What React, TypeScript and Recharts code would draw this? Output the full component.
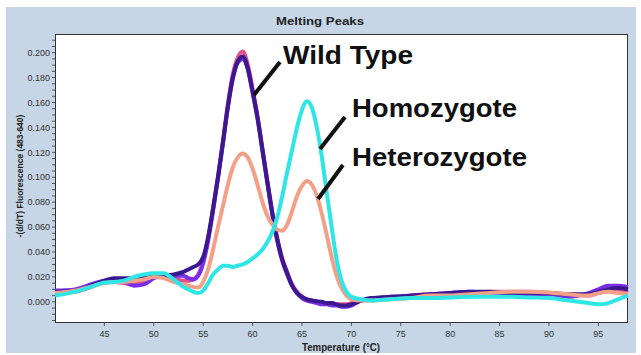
import { LineChart, Line, XAxis, YAxis } from "recharts";

// Temperature sample points (°C)
const TEMPS = [
  40, 42, 44, 45, 46, 47, 48, 49, 50, 51, 52, 53, 53.5, 54, 54.5, 55, 55.5, 56, 56.5, 57,
  57.5, 58, 58.5, 59, 59.5, 60, 60.5, 61, 61.5, 62, 62.5, 63, 63.5, 64, 64.5, 65, 65.5, 66,
  66.5, 67, 67.5, 68, 68.5, 69, 69.5, 70, 71, 72, 74, 76, 78, 80, 82, 84, 86, 88, 90, 92,
  94, 95, 96, 97, 98,
];

// -(d/dT) fluorescence
const WILD_A = [
  0.008, 0.009, 0.014, 0.017, 0.019, 0.019, 0.019, 0.020, 0.021, 0.021, 0.022, 0.024, 0.026, 0.028, 0.030, 0.036, 0.052, 0.075, 0.100, 0.128,
  0.157, 0.180, 0.193, 0.197, 0.188, 0.169, 0.148, 0.122, 0.096, 0.071, 0.050, 0.034, 0.023, 0.013, 0.007, 0.004, 0.002, 0.001,
  0.0005, 0.0, -0.001, -0.001, -0.002, -0.003, -0.003, -0.002, 0.001, 0.003, 0.004, 0.005, 0.006, 0.007, 0.008, 0.008, 0.007, 0.007, 0.007, 0.006,
  0.006, 0.008, 0.010, 0.011, 0.010,
];
const WILD_B = [
  0.009, 0.010, 0.015, 0.017, 0.018, 0.016, 0.013, 0.014, 0.019, 0.021, 0.021, 0.021, 0.019, 0.018, 0.021, 0.031, 0.049, 0.073, 0.099, 0.127,
  0.156, 0.179, 0.192, 0.195, 0.187, 0.168, 0.147, 0.121, 0.095, 0.070, 0.049, 0.033, 0.022, 0.013, 0.007, 0.003, 0.001, 0.0,
  -0.001, -0.002, -0.002, -0.003, -0.003, -0.004, -0.004, -0.003, 0.001, 0.002, 0.004, 0.004, 0.006, 0.007, 0.008, 0.007, 0.006, 0.006, 0.006, 0.004,
  0.007, 0.010, 0.013, 0.013, 0.012,
];
const WILD_C = [
  0.007, 0.008, 0.013, 0.016, 0.016, 0.015, 0.014, 0.016, 0.020, 0.020, 0.019, 0.017, 0.017, 0.018, 0.022, 0.033, 0.051, 0.075, 0.101, 0.129,
  0.159, 0.183, 0.196, 0.201, 0.191, 0.171, 0.149, 0.123, 0.097, 0.072, 0.051, 0.035, 0.024, 0.014, 0.008, 0.004, 0.002, 0.001,
  0.0, -0.001, -0.001, -0.001, -0.002, -0.002, -0.002, -0.001, 0.001, 0.002, 0.003, 0.005, 0.006, 0.006, 0.007, 0.008, 0.008, 0.008, 0.007, 0.006,
  0.005, 0.007, 0.009, 0.009, 0.008,
];
const HETERO = [
  0.007, 0.009, 0.013, 0.015, 0.016, 0.016, 0.017, 0.018, 0.020, 0.019, 0.016, 0.014, 0.013, 0.012, 0.0115, 0.016, 0.026, 0.042, 0.060, 0.077,
  0.094, 0.108, 0.116, 0.119, 0.116, 0.107, 0.094, 0.080, 0.069, 0.062, 0.058, 0.057, 0.062, 0.073, 0.085, 0.093, 0.097, 0.094,
  0.085, 0.071, 0.054, 0.036, 0.021, 0.011, 0.005, 0.002, 0.001, 0.001, 0.002, 0.003, 0.005, 0.005, 0.006, 0.007, 0.008, 0.008, 0.0075, 0.006,
  0.005, 0.007, 0.008, 0.007, 0.006,
];
const HOMO = [
  0.005, 0.008, 0.013, 0.0155, 0.016, 0.017, 0.020, 0.022, 0.023, 0.023, 0.018, 0.012, 0.010, 0.008, 0.007, 0.009, 0.015, 0.022, 0.026, 0.029,
  0.029, 0.028, 0.029, 0.030, 0.032, 0.035, 0.038, 0.042, 0.048, 0.056, 0.068, 0.085, 0.104, 0.122, 0.140, 0.154, 0.161, 0.156,
  0.140, 0.117, 0.088, 0.060, 0.034, 0.017, 0.008, 0.004, 0.002, 0.001, 0.002, 0.003, 0.003, 0.0035, 0.004, 0.004, 0.004, 0.0035, 0.003, 0.001,
  -0.001, -0.002, -0.001, 0.002, 0.005,
];

const X_TICKS = [45, 50, 55, 60, 65, 70, 75, 80, 85, 90, 95];
const Y_LABELS = [0, 0.02, 0.04, 0.06, 0.08, 0.1, 0.12, 0.14, 0.16, 0.18, 0.2];
const Y_TICKS = Array.from({ length: 46 }, (_, i) => Math.round((-0.015 + i * 0.005) * 1000) / 1000);

const rows = TEMPS.map((t, i) => ({
  t,
  wildC: WILD_C[i],
  wildB: WILD_B[i],
  wildA: WILD_A[i],
  hetero: HETERO[i],
  homo: HOMO[i],
}));

const series = [
  { key: "wildC", color: "#e0508a" },
  { key: "wildB", color: "#7a2ee8" },
  { key: "wildA", color: "#3a1890" },
  { key: "hetero", color: "#f4a088" },
  { key: "homo", color: "#2ee6e6" },
];

const FONT = "'Liberation Sans', Arial, sans-serif";
const NARROW = "'Liberation Sans Narrow', 'Liberation Sans', Arial, sans-serif";
const W = 641;
const H = 355;
const M = { top: 34, right: 13, bottom: 0, left: 0 };
const YW = 55;
const XH = 32;

const fmtY = (v: number) => (Y_LABELS.some((l) => Math.abs(l - v) < 1e-9) ? v.toFixed(3) : "");

export default function App() {
  const plotW = W - M.left - YW - M.right;
  const plotH = H - M.top - M.bottom - XH;
  return (
    <div style={{ position: "absolute", left: 0, top: 0, width: W, height: H, background: "#fff" }}>
      <div style={{ position: "absolute", left: 6, top: 7, width: 630, height: 346, background: "#c6d6e6" }} />
      <div
        style={{
          position: "absolute", left: M.left + YW, top: M.top, width: plotW, height: plotH,
          background: "#fff", boxSizing: "border-box", border: "1.5px solid #333",
        }}
      />
      <div style={{ position: "absolute", left: 0, top: 0 }}>
        <LineChart width={W} height={H} data={rows} margin={M}>
          <XAxis
            dataKey="t" type="number" domain={[40, 98]} ticks={X_TICKS} height={XH}
            axisLine={false} tickSize={3} tickMargin={5} stroke="#555"
            tick={{ fontSize: 9, fontFamily: NARROW, fill: "#333" }}
          />
          <YAxis
            type="number" domain={[-0.017, 0.215]} ticks={Y_TICKS} width={YW} allowDataOverflow
            axisLine={false} tickSize={3} stroke="#555" interval={0} tickFormatter={fmtY}
            tick={{ fontSize: 9, fontFamily: NARROW, fill: "#333" }}
          />
          {series.map((s) => (
            <Line key={s.key} type="monotone" dataKey={s.key} stroke={s.color} strokeWidth={4}
                  dot={false} isAnimationActive={false} />
          ))}
        </LineChart>
      </div>
      <svg width={W} height={H} style={{ position: "absolute", left: 0, top: 0, pointerEvents: "none" }}>
        <text x={320} y={25} textAnchor="middle" fontFamily={FONT} fontWeight="bold" fontSize={11}
              fill="#222" textLength={88} lengthAdjust="spacingAndGlyphs">
          Melting Peaks
        </text>
        <text x={341} y={351} textAnchor="middle" fontFamily={FONT} fontWeight="bold" fontSize={10}
              fill="#222" textLength={78} lengthAdjust="spacingAndGlyphs">
          Temperature (°C)
        </text>
        <text
          x={0} y={0} transform="translate(23,176) rotate(-90)" textAnchor="middle"
          fontFamily={FONT} fontWeight="bold" fontSize={8.5} fill="#222"
        >
          -(d/dT) Fluorescence (483-640)
        </text>
        <g fontFamily={FONT} fontWeight="bold" fontSize={26} fill="#111">
          <text x={283} y={64} textLength={130} lengthAdjust="spacingAndGlyphs">Wild Type</text>
          <text x={352} y={117} textLength={165} lengthAdjust="spacingAndGlyphs">Homozygote</text>
          <text x={352} y={166} textLength={175} lengthAdjust="spacingAndGlyphs">Heterozygote</text>
        </g>
        <g stroke="#111" strokeWidth={4}>
          <line x1={280} y1={62} x2={254} y2={95} />
          <line x1={345} y1={117} x2={320} y2={149} />
          <line x1={343} y1={165} x2={318} y2={199} />
        </g>
      </svg>
    </div>
  );
}
